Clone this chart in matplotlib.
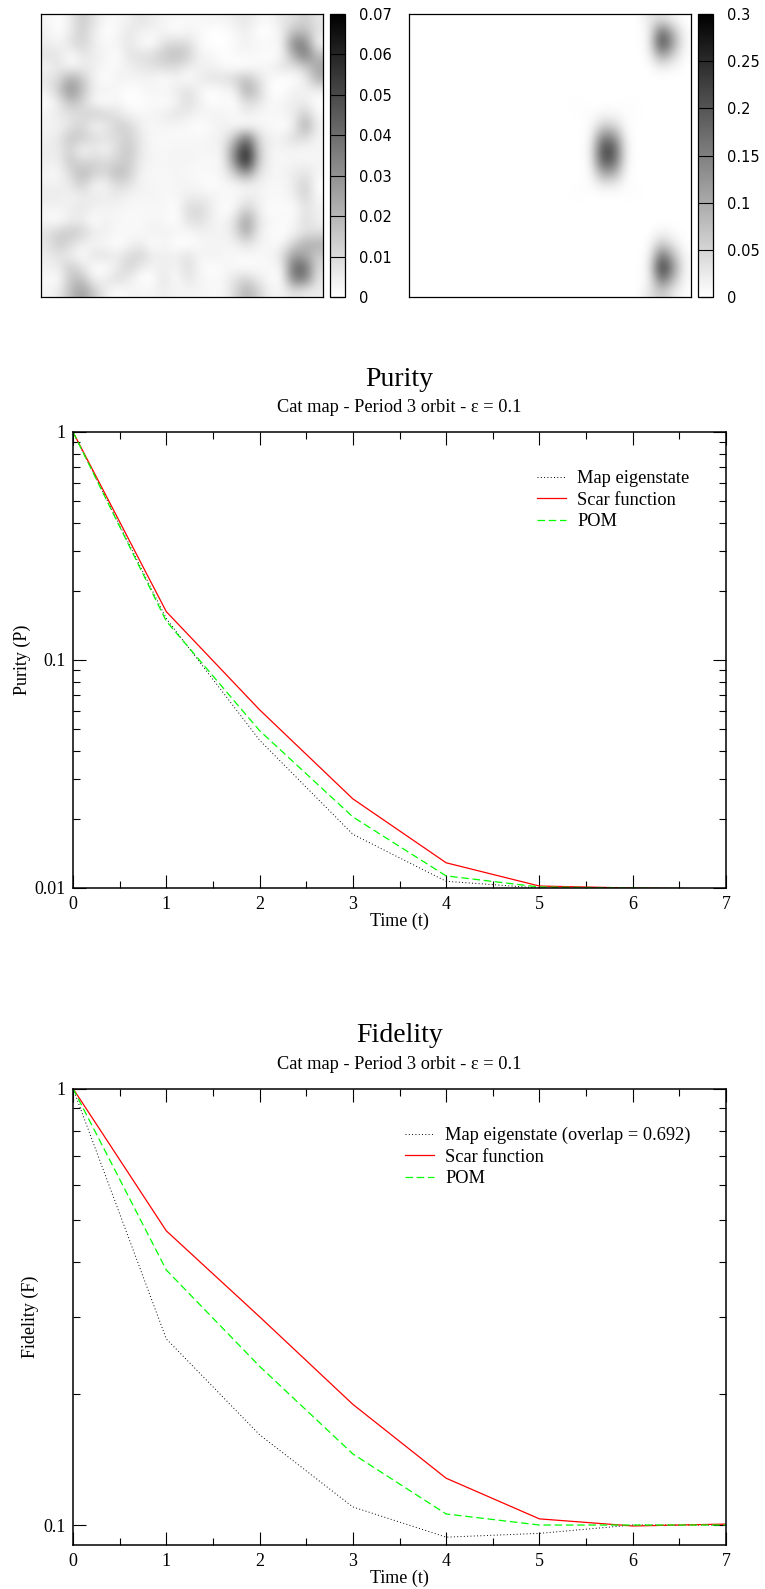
import matplotlib
matplotlib.use('Agg')
import numpy as np
import matplotlib.pyplot as plt
from matplotlib.ticker import FixedLocator, NullFormatter

W, H = 765, 1589

# Left density map, thousandths, rows top to bottom
map_left = [
 [3,0,5,15,8,2,2,4,8,5,3,2, 2,2,3,3,5,7,3,2,7,8,14,7],
 [4,0,5,14,5,0,2,7,4,3,3,0, 3,2,0,0,2,5,0,0,4,18,18,8],
 [5,3,8,13,5,2,3,7,2,0,9,11, 10,2,0,0,2,4,2,3,2,35,35,2],
 [8,8,0,7,5,3,0,8,8,10,15,18, 14,3,3,0,2,2,2,0,2,22,38,18],
 [3,7,2,5,5,2,2,4,7,8,10,10, 5,4,4,2,0,0,2,3,8,7,13,25],
 [7,10,24,16,3,0,4,3,3,3,0,3, 0,5,8,8,12,18,8,2,0,0,4,22],
 [4,14,32,18,4,4,2,0,2,3,3,5, 9,3,0,2,3,24,13,0,0,4,4,4],
 [0,5,18,12,2,0,3,0,0,2,0,3, 10,4,0,2,0,10,8,2,3,5,5,0],
 [4,6,8,10,14,12,8,3,3,3,5,8, 5,3,4,3,2,5,2,2,3,5,15,2],
 [3,3,8,12,2,5,13,12,4,2,3,2, 2,0,2,4,2,0,3,2,0,3,25,4],
 [4,6,16,14,10,8,10,13,6,2,2,2, 2,2,3,4,16,40,10,4,4,10,10,3],
 [5,6,13,2,6,2,10,16,6,2,2,3, 3,3,3,4,32,62,14,3,3,3,2,3],
 [5,4,16,10,12,10,12,15,5,3,3,3, 3,2,2,2,32,66,14,3,2,3,3,3],
 [3,2,10,20,14,10,20,14,3,2,2,3, 2,2,2,3,14,30,8,3,3,5,8,3],
 [4,4,6,14,2,3,10,8,3,3,2,3, 3,2,0,2,2,3,4,2,2,5,14,0],
 [6,6,3,5,6,5,6,3,3,3,2,2, 5,5,4,2,2,5,4,2,2,4,13,2],
 [3,3,5,7,4,3,3,2,2,2,3,0, 10,11,5,0,2,13,5,0,2,0,8,4],
 [2,0,5,5,0,4,2,2,2,3,2,0, 8,10,4,2,8,28,7,2,2,2,10,4],
 [8,13,15,13,5,5,2,2,2,4,4,3, 2,4,4,3,8,26,5,2,0,3,8,8],
 [7,15,10,4,3,2,0,3,5,0,3,0, 0,2,3,3,3,8,4,2,2,12,22,22],
 [5,8,5,0,8,8,5,10,13,5,5,4, 8,3,4,3,2,2,2,2,8,28,24,14],
 [4,5,15,8,0,0,5,13,5,3,5,3, 10,2,0,2,2,0,2,2,2,42,42,9],
 [2,0,16,18,3,5,10,5,0,0,8,0, 8,3,2,2,8,13,5,2,0,36,36,7],
 [3,5,18,28,15,5,0,3,3,3,5,3, 3,3,2,2,10,22,13,3,3,8,5,5],
]

# Right density map, thousandths, rows top to bottom
map_right = [
 [0]*20 + [30,40,15,0],
 [0]*20 + [12,190,80,4],
 [0]*20 + [15,235,110,4],
 [0]*20 + [8,120,50,2],
 [0]*20 + [2,20,10,1],
 [0]*24,
 [0]*24,
 [0]*13 + [2,3,0,0,0,3,2] + [0]*4,
 [0]*14 + [3,3,12,10,3,3] + [0]*4,
 [0]*15 + [3,60,52,2] + [0]*5,
 [0]*15 + [8,160,140,6] + [0]*5,
 [0]*15 + [12,225,200,9] + [0]*5,
 [0]*15 + [10,205,180,8] + [0]*5,
 [0]*15 + [5,110,100,3] + [0]*5,
 [0]*14 + [3,3,25,20,3,3] + [0]*4,
 [0]*13 + [2,3,0,0,0,3,2] + [0]*4,
 [0]*24,
 [0]*24,
 [0]*21 + [15,6,0],
 [0]*20 + [4,70,25,2],
 [0]*20 + [10,180,80,5],
 [0]*20 + [15,260,125,6],
 [0]*20 + [10,180,80,5],
 [0]*20 + [30,70,25,2],
]

left_ticks = [0, 0.01, 0.02, 0.03, 0.04, 0.05, 0.06, 0.07]
left_labels = ['0', '0.01', '0.02', '0.03', '0.04', '0.05', '0.06', '0.07']
right_ticks = [0, 0.05, 0.1, 0.15, 0.2, 0.25, 0.3]
right_labels = ['0', '0.05', '0.1', '0.15', '0.2', '0.25', '0.3']

time = [0, 1, 2, 3, 4, 5, 6, 7]

purity_eig = [1, 0.152, 0.0445, 0.0172, 0.0107, 0.0100, 0.0099, 0.0098]
purity_scar = [1, 0.163, 0.0605, 0.0246, 0.0129, 0.0102, 0.0100, 0.0099]
purity_pom = [1, 0.148, 0.049, 0.0205, 0.0113, 0.0101, 0.0100, 0.0099]

fid_eig = [1, 0.267, 0.161, 0.110, 0.0938, 0.0957, 0.1, 0.1]
fid_scar = [1, 0.472, 0.30, 0.189, 0.128, 0.1033, 0.0995, 0.1005]
fid_pom = [1, 0.384, 0.231, 0.1455, 0.106, 0.1, 0.1, 0.1]

SERIF = 'Liberation Serif'
fig = plt.figure(figsize=(W/100, H/100), dpi=100)


def axpx(x0, x1, y0, y1):
    return fig.add_axes([x0/W, 1-y1/H, (x1-x0)/W, (y1-y0)/H])


def heat(x0, x1, cx0, cx1, grid, vmax, ticks, labels):
    ax = axpx(x0, x1, 14, 297)
    im = ax.imshow(np.array(grid)/1000, cmap='gray_r', vmin=0, vmax=vmax,
                   interpolation='bicubic', aspect='auto')
    ax.set_xticks([])
    ax.set_yticks([])
    for s in ax.spines.values():
        s.set_linewidth(0.9)
    cax = axpx(cx0, cx1, 14, 297)
    cb = fig.colorbar(im, cax=cax)
    cb.set_ticks(ticks)
    cb.set_ticklabels(labels)
    cb.ax.tick_params(direction='in', length=10.8, width=0.8, labelsize=10.5,
                      pad=10, color='black')
    cb.outline.set_linewidth(0.9)


heat(41, 323, 330, 345, map_left, 0.07, left_ticks, left_labels)
heat(409, 691, 698, 713, map_right, 0.3, right_ticks, right_labels)


def curves(y0, y1, ymin, eig, scar, pom, eig_label, majors, major_labels, minors,
           ylabel, leg_xy, ylabel_x):
    ax = axpx(73, 726, y0, y1)
    ax.set_yscale('log')
    ax.plot(time, eig, color='black', lw=0.7, ls=(0, (1, 2.4)), label=eig_label)
    ax.plot(time, scar, color='#ff0000', lw=0.9, label='Scar function')
    ax.plot(time, pom, color='#00ff00', lw=0.9, ls=(0, (6, 3)), label='POM')
    ax.set_xlim(0, 7)
    ax.set_ylim(ymin, 1)
    ax.set_xticks(range(8))
    ax.set_xticks([0.5, 1.5, 2.5, 3.5, 4.5, 5.5, 6.5], minor=True)
    ax.yaxis.set_major_locator(FixedLocator(majors))
    ax.set_yticklabels(major_labels)
    ax.yaxis.set_minor_locator(FixedLocator(minors))
    ax.yaxis.set_minor_formatter(NullFormatter())
    ax.tick_params(which='major', direction='in', length=9.4, width=0.8,
                   top=True, right=True, labelsize=13, pad=5.5, labelfontfamily=SERIF)
    ax.tick_params(which='minor', direction='in', length=5, width=0.8,
                   top=True, right=True)
    for s in ax.spines.values():
        s.set_linewidth(1.1)
    ax.set_xlabel('Time (t)', family=SERIF, fontsize=13, labelpad=0)
    ax.set_ylabel(ylabel, family=SERIF, fontsize=13)
    ax.yaxis.set_label_coords(ylabel_x, 0.5)
    ax.legend(loc='upper left', bbox_to_anchor=leg_xy, frameon=False, handlelength=1.58,
              handletextpad=0.6, labelspacing=0.25, borderpad=0, borderaxespad=0,
              prop={'family': SERIF, 'size': 13.2})
    return ax


ax1 = curves(432, 888, 0.01, purity_eig, purity_scar, purity_pom, 'Map eigenstate',
             [0.01, 0.1, 1], ['0.01', '0.1', '1'],
             [m*d for d in (0.01, 0.1) for m in range(2, 10)], 'Purity (P)',
             (0.711, 0.916), -0.065)
ax2 = curves(1088.5, 1545, 0.09, fid_eig, fid_scar, fid_pom,
             'Map eigenstate (overlap = 0.692)',
             [0.1, 1], ['0.1', '1'],
             [m*0.1 for m in range(2, 10)], 'Fidelity (F)',
             (0.509, 0.916), -0.052)

for ax, title in ((ax1, 'Purity'), (ax2, 'Fidelity')):
    ax.text(0.5, 1.116, title, transform=ax.transAxes, family=SERIF, fontsize=20,
            ha='center', va='center')
    ax.text(0.5, 1.053, 'Cat map - Period 3 orbit - ε = 0.1', transform=ax.transAxes,
            family=SERIF, fontsize=13.2, ha='center', va='center')

fig.savefig('out.png', dpi=100)
